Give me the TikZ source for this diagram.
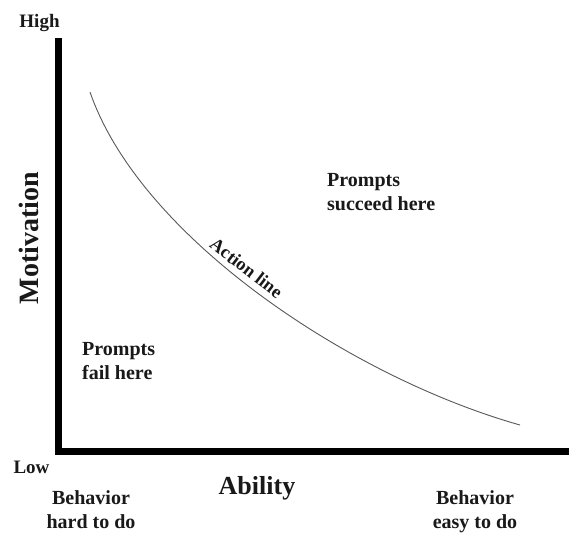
\documentclass[tikz,border=0pt]{standalone}
\usepackage{fontspec}
\setmainfont{Liberation Serif}
\begin{document}
\begin{tikzpicture}[x=1pt,y=-1pt,
  axis/.style={line width=7pt,black,line join=miter},
  actionline/.style={line width=0.9pt,black!65},
  lbl/.style={inner sep=0pt,font=\bfseries\fontsize{20}{24}\selectfont,text=black!90},
  endlbl/.style={lbl,font=\bfseries\fontsize{19}{22}\selectfont},
  axlbl/.style={lbl,font=\bfseries\fontsize{26}{30}\selectfont}]
\useasboundingbox (0,0) rectangle (569,533);
\fill[white] (0,0) rectangle (569,533);
% axes
\coordinate (top) at (58.5,38);
\coordinate (corner) at (58.5,451);
\coordinate (right) at (569,451);
\draw[axis] (top) -- (corner) -- (right);
% action line
\coordinate (cs) at (90,92);
\coordinate (ce) at (520,425);
\draw[actionline] (cs) .. controls (140,237) and (350,377) .. (ce);
% axis ends
\node[endlbl,anchor=base] (high) at (39.5,27) {High};
\node[endlbl,anchor=base] (low) at (31.5,473) {Low};
% axis titles
\node[axlbl,anchor=base] (ability) at (257,494) {Ability};
\node[axlbl,font=\bfseries\fontsize{28}{32}\selectfont,anchor=base,rotate=90] (motivation) at (38,238) {Motivation};
% ability scale ends
\node[lbl,align=center,anchor=north] (hard) at (91,490) {Behavior\\hard to do};
\node[lbl,align=center,anchor=north] (easy) at (475,490) {Behavior\\easy to do};
% regions
\node[lbl,align=left,anchor=north west] (fail) at (82,342) {Prompts\\fail here};
\node[lbl,align=left,anchor=north west] (succeed) at (327,173) {Prompts\\succeed here};
\node[lbl,font=\bfseries\fontsize{18.5}{22}\selectfont,rotate=-37.6] (act) at (246.5,268) {Action line};
\end{tikzpicture}
\end{document}
